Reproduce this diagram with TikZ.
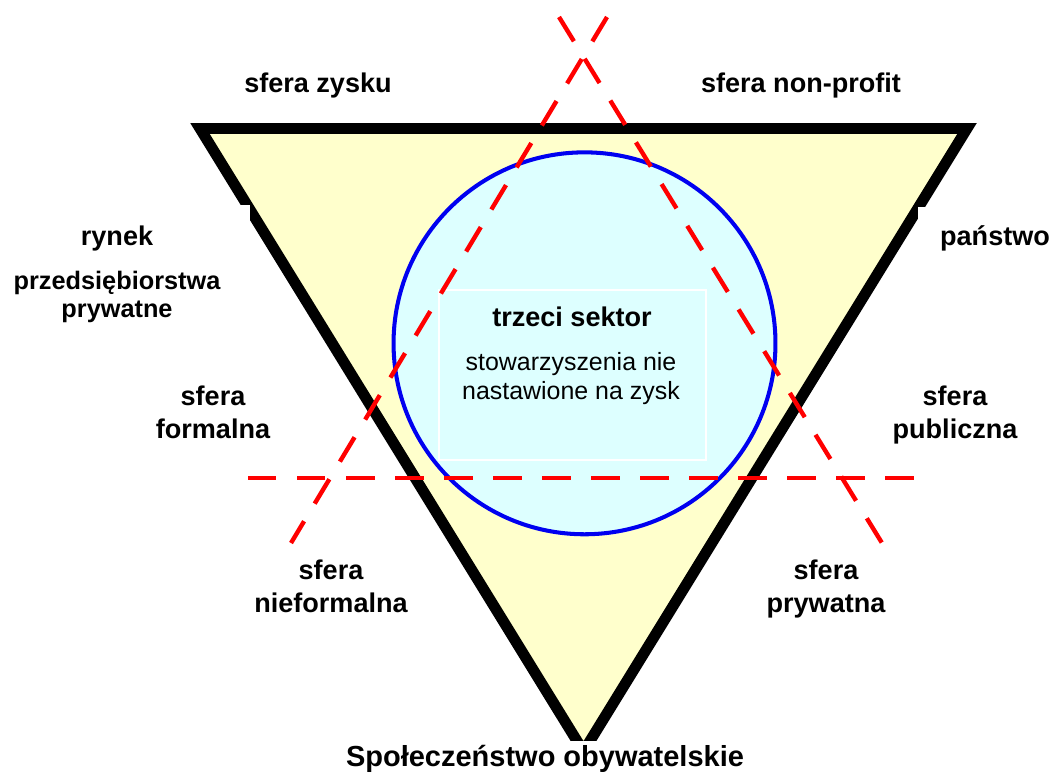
\documentclass[tikz,border=0pt]{standalone}
\usepackage{fontspec}
\setmainfont{Liberation Sans}
\usepackage{tikz}
\usetikzlibrary{positioning}
\definecolor{paleyellow}{RGB}{255,255,204}
\definecolor{palecyan}{RGB}{221,255,255}
\definecolor{ringblue}{RGB}{0,0,240}
\tikzset{lbl/.style = {font=\bfseries\fontsize{15.4}{18.5}\selectfont, align=center, inner sep=0}}
\tikzset{note/.style = {font=\fontsize{14.2}{16.4}\selectfont, align=center, inner sep=0}}
\tikzset{cut/.style = {red, line width=2.5pt, dash pattern=on 16.2pt off 11.7pt}}

\begin{document}
\begin{tikzpicture}[x=0.02cm, y=-0.02cm]
    \useasboundingbox (0,0) rectangle (1053,772);

    \coordinate (tl) at (200,128.5);
    \coordinate (tr) at (967,128.5);
    \coordinate (tip) at (583.5,751.5);
    \draw [fill=paleyellow, line width=6.2pt] (tl) -- (tr) -- (tip) -- cycle;
    \fill [white] (150,205) rectangle (250,300);
    \fill [white] (918,207) rectangle (1010,300);

    \draw [ringblue, fill=palecyan, line width=2.3pt] (584.5,343.3) circle [radius=3.82cm];
    \draw [white, fill=palecyan, line width=0.6pt] (439,290) rectangle (706,460);

    \node [lbl, anchor=base] (trzeci) at (572,326) {trzeci sektor};
    \node [note, anchor=base] (stow) at (571,399) {stowarzyszenia nie\\nastawione na zysk};

    \coordinate (h1) at (248,478);
    \coordinate (h2) at (916,478);
    \coordinate (d1) at (607,17);
    \coordinate (d2) at (291,543);
    \coordinate (e1) at (559,17);
    \coordinate (e2) at (882,543);
    \draw [cut] (h1) -- (h2);
    \draw [cut] (d1) -- (d2);
    \draw [cut] (e1) -- (e2);

    \node [lbl, anchor=base] (zysk) at (318,92) {sfera zysku};
    \node [lbl, anchor=base] (nonprofit) at (801,92) {sfera non-profit};
    \node [lbl, anchor=base] (rynek) at (117,245) {rynek};
    \node [lbl, anchor=base, font=\bfseries\fontsize{14.4}{15.9}\selectfont] (firmy) at (117,317) {przedsiębiorstwa\\prywatne};
    \node [lbl, anchor=base] (panstwo) at (995,245) {państwo};
    \node [lbl, anchor=base] (formalna) at (213,438) {sfera\\formalna};
    \node [lbl, anchor=base] (publiczna) at (955,438) {sfera\\publiczna};
    \node [lbl, anchor=base] (nieformalna) at (331,612) {sfera\\nieformalna};
    \node [lbl, anchor=base] (prywatna) at (826,612) {sfera\\prywatna};
    \node [lbl, anchor=base, font=\bfseries\fontsize{16.5}{19}\selectfont, fill=white, inner sep=2pt] (obyw) at (545,766) {Społeczeństwo obywatelskie};
  \end{tikzpicture}
\end{document}
